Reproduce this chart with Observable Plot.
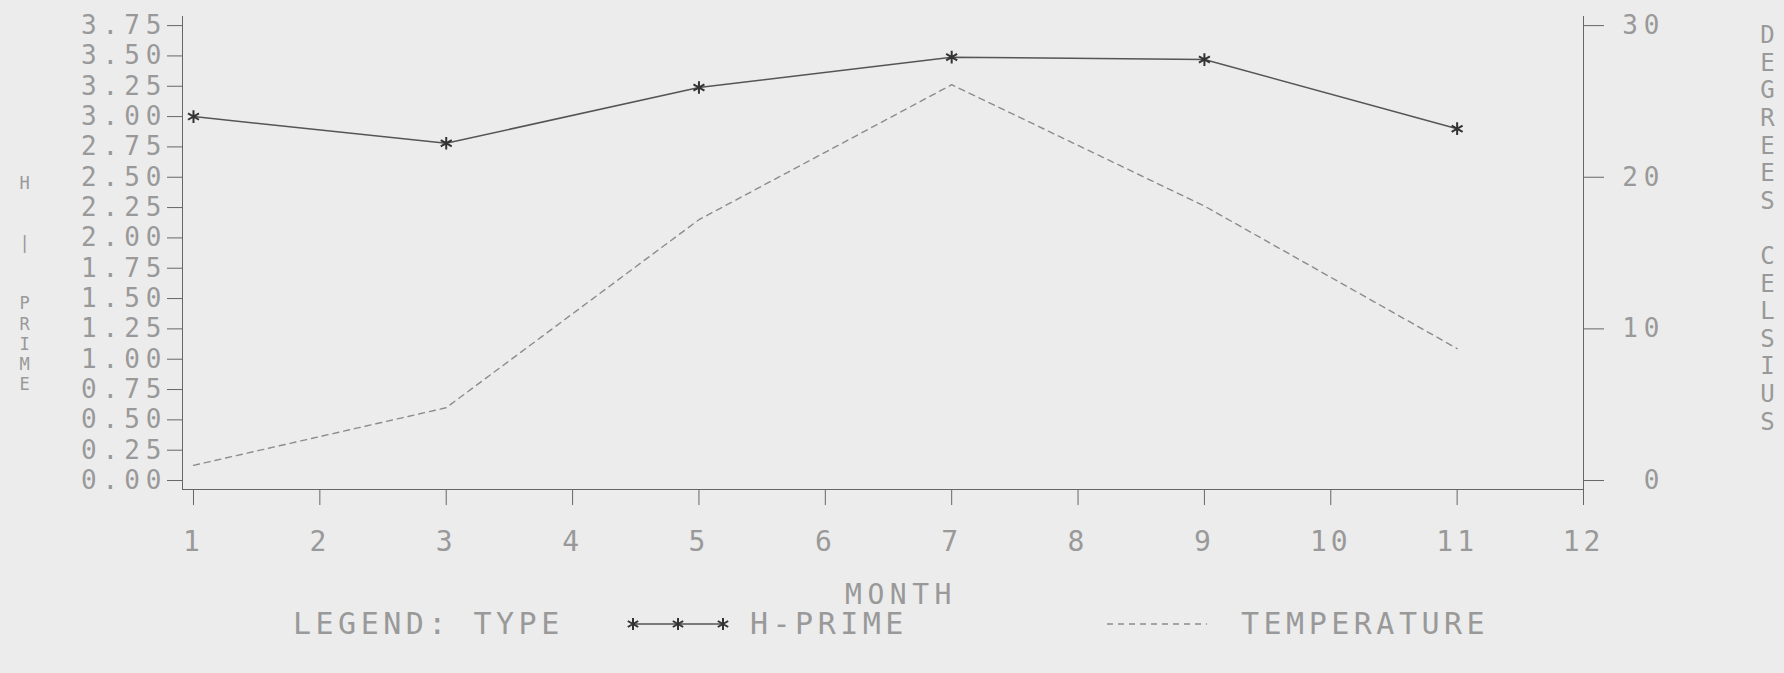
<!DOCTYPE html>
<html>
<head>
<meta charset="utf-8">
<script src="https://cdn.jsdelivr.net/npm/d3@7"></script>
<script src="https://cdn.jsdelivr.net/npm/@observablehq/plot@0.6"></script>
<style>
  html, body { margin: 0; padding: 0; background: #ececec; overflow: hidden; }
  #chart { width: 1784px; }
  g[aria-label="y-axis tick label"] text { letter-spacing: 6px; }
  g[aria-label="x-axis tick label"] text { letter-spacing: 4px; }
  g[aria-label$="axis tick"] { stroke: #666; }
  #legend { position: relative; width: 1784px; height: 58px; font-family: "DejaVu Sans Mono", monospace; font-size: 30px; color: #999; letter-spacing: 4.5px; }
  #legend span { position: absolute; top: -10px; line-height: 38px; white-space: pre; }
  #legend svg { position: absolute; top: -6px; }
</style>
</head>
<body>
<div id="chart"></div>
<div id="legend">
  <span style="left:293px">LEGEND: TYPE</span>
  <svg style="left:618px" width="125" height="30">
    <line x1="15" x2="105" y1="15" y2="15" stroke="#555" stroke-width="1.6"></line>
    <g stroke="#333" stroke-width="2">
      <path d="M15,9V21M9.8,12L20.2,18M9.8,18L20.2,12"></path>
      <path d="M60,9V21M54.8,12L65.2,18M54.8,18L65.2,12"></path>
      <path d="M105,9V21M99.8,12L110.2,18M99.8,18L110.2,12"></path>
    </g>
  </svg>
  <span style="left:750px">H-PRIME</span>
  <svg style="left:1107px" width="100" height="30">
    <line x1="0" x2="100" y1="15" y2="15" stroke="#8c8c8c" stroke-width="1.4" stroke-dasharray="6,5"></line>
  </svg>
  <span style="left:1241px">TEMPERATURE</span>
</div>
<script>
// ---- data ----
const months = [1, 3, 5, 7, 9, 11];
const hPrime = [3.00, 2.78, 3.24, 3.49, 3.47, 2.90];
const temperature = [1.0, 4.8, 17.2, 26.1, 18.1, 8.7];
const monthTicks = [1, 2, 3, 4, 5, 6, 7, 8, 9, 10, 11, 12];
const hPrimeTicks = [0, 0.25, 0.5, 0.75, 1, 1.25, 1.5, 1.75, 2, 2.25, 2.5, 2.75, 3, 3.25, 3.5, 3.75];
const celsiusTicks = [0, 10, 20, 30];
const degreesPerHUnit = 8; // right axis: 30 °C aligns with 3.75 H-prime

const hData = months.map((m, i) => ({month: m, h: hPrime[i]}));
const tData = months.map((m, i) => ({month: m, t: temperature[i]}));

const leftTitle = "H\n\n\n|\n\n\nP\nR\nI\nM\nE";
const rightTitle = "D\nE\nG\nR\nE\nE\nS\n\nC\nE\nL\nS\nI\nU\nS";
const xTitle = "MONTH";

const font = "'DejaVu Sans Mono', monospace";

const chart = Plot.plot({
  width: 1784,
  height: 615,
  marginLeft: 182,
  marginRight: 201,
  marginTop: 16,
  marginBottom: 126,
  x: {domain: [0.913, 12]},
  y: {domain: [-0.074, 3.825]},
  style: {background: "transparent", fontFamily: font, color: "#999", overflow: "visible"},
  marks: [
    Plot.frame({anchor: "left", stroke: "#666"}),
    Plot.frame({anchor: "bottom", stroke: "#666"}),
    Plot.frame({anchor: "right", stroke: "#666"}),
    Plot.axisX({ticks: monthTicks, tickSize: 16, tickPadding: 26, fontSize: 28, label: null, tickFormat: d => String(d)}),
    Plot.axisY({anchor: "left", ticks: hPrimeTicks, tickSize: 15, tickPadding: 0, fontSize: 26, label: null, tickFormat: d3.format(".2f")}),
    Plot.axisY({anchor: "right", ticks: celsiusTicks.map(t => t / degreesPerHUnit), tickSize: 20, tickPadding: 62,
      textAnchor: "end", fontSize: 26, label: null, tickFormat: d => String(Math.round(d * degreesPerHUnit))}),
    Plot.line(tData, {x: "month", y: d => d.t / degreesPerHUnit, stroke: "#8c8c8c", strokeWidth: 1.4, strokeDasharray: "6,5"}),
    Plot.line(hData, {x: "month", y: "h", stroke: "#555", strokeWidth: 1.5}),
    Plot.dot(hData, {x: "month", y: "h", symbol: "asterisk", r: 6, stroke: "#333", strokeWidth: 2}),
    Plot.text([leftTitle], {text: d => d, frameAnchor: "left", dx: -158, dy: 30, textAnchor: "middle", lineHeight: 1.18, fontSize: 17, fill: "#999"}),
    Plot.text([rightTitle], {text: d => d, frameAnchor: "right", dx: 184, dy: -25.5, textAnchor: "middle", lineHeight: 1.15, fontSize: 24, fill: "#999"}),
    Plot.text([xTitle], {text: d => d, frameAnchor: "bottom", dx: 18, dy: 114, fontSize: 28, fill: "#999"})
  ]
});
d3.select(chart).selectAll("text").filter(function() { return this.textContent === xTitle; })
  .attr("letter-spacing", "5.5px");
document.getElementById("chart").appendChild(chart);
</script>
</body>
</html>
